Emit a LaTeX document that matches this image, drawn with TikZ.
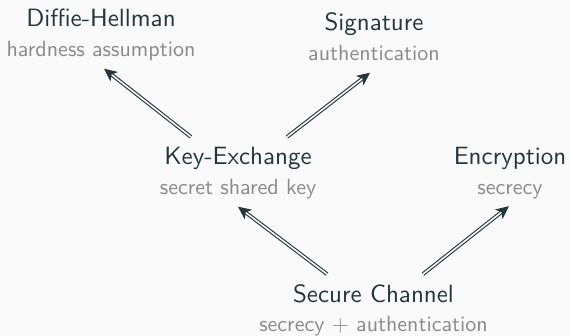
\documentclass[tikz,border=0pt]{standalone}
\usepackage{fontspec}
\setsansfont{lmsans10-regular}[Extension=.otf]
\usetikzlibrary{arrows.meta}
\definecolor{mteal}{HTML}{23373B}
\definecolor{mgray}{HTML}{8A8A8A}
\definecolor{mbg}{HTML}{FAFAFA}
\tikzset{
  ttl/.style={font=\sffamily\fontsize{25}{30}\selectfont, text=mteal, inner sep=0pt, anchor=base},
  subt/.style={font=\sffamily\fontsize{22}{26}\selectfont, text=mgray, inner sep=0pt, anchor=base, text depth=0.25em},
  imp/.style={draw=mteal, line width=1.1pt, double=mbg, double distance=1.6pt,
    -{Stealth[length=13pt,width=12pt,inset=3.5pt,fill=mteal]}}
}
\begin{document}
\begin{tikzpicture}[x=1pt,y=-1pt]
\fill[mbg] (0,0) rectangle (570,336);
\useasboundingbox (0,0) rectangle (570,336);
\node[ttl] (dh) at (101,26.7) {Diffie-Hellman};
\node[subt] (dhs) at (101,57) {hardness assumption};
\node[ttl] (sig) at (374,30.7) {Signature};
\node[subt] (sigs) at (374,61) {authentication};
\node[ttl] (ke) at (238,165) {Key-Exchange};
\node[subt] (kes) at (238,195) {secret shared key};
\node[ttl] (enc) at (510,165) {Encryption};
\node[subt] (encs) at (510,194.5) {secrecy};
\node[ttl] (sc) at (373.5,302.7) {Secure Channel};
\node[subt] (scs) at (373.5,332) {secrecy + authentication};
\draw[imp] ([xshift=-47pt,yshift=10.5pt]ke.north) -- ([xshift=3pt,yshift=-9pt]dhs.south);
\draw[imp] ([xshift=49pt,yshift=10.5pt]ke.north) -- ([xshift=-4pt,yshift=-9pt]sigs.south);
\draw[imp] ([xshift=-46.5pt,yshift=10.5pt]sc.north) -- ([xshift=0pt,yshift=-9pt]kes.south);
\draw[imp] ([xshift=49.5pt,yshift=10.5pt]sc.north) -- ([xshift=-1pt,yshift=-9pt]encs.south);
\end{tikzpicture}
\end{document}
